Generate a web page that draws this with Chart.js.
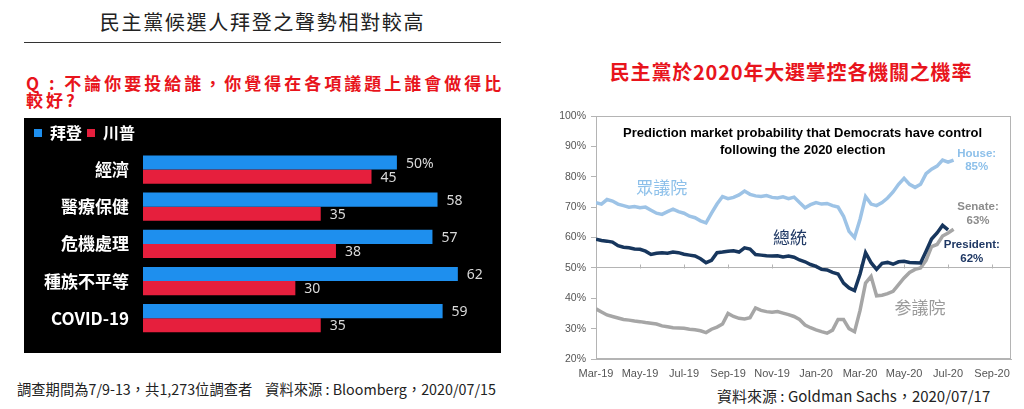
<!DOCTYPE html>
<html>
<head>
<meta charset="utf-8">
<script src="https://cdn.jsdelivr.net/npm/chart.js@4.4.0/dist/chart.umd.min.js"></script>
<style>
  body { margin: 0; width: 1024px; height: 409px; background: #fff; position: relative; overflow: hidden;
         font-family: "Noto Sans CJK TC", sans-serif; }
  .txt { position: absolute; white-space: nowrap; }
  #title { left: 24px; width: 477px; top: 8px; text-align: center; font-size: 20px; letter-spacing: 1.7px; color: #222; line-height: 28px; }
  #rule { position: absolute; left: 24px; width: 477px; top: 42px; border-top: 1px solid #333; }
  #question { left: 26px; top: 74px; font-size: 17px; font-weight: bold; letter-spacing: 3px; color: #e8141c; line-height: 17px; }
  #rightTitle { left: 540px; width: 502px; top: 58px; text-align: center; font-size: 20px; font-weight: bold; letter-spacing: 0.8px; color: #e8141c; line-height: 28px; }
  #noteLeft { left: 17px; top: 378px; font-size: 14.3px; color: #222; line-height: 22px; }
  #noteRight { left: 717px; top: 385px; font-size: 15px; color: #222; line-height: 22px; }
  #bars { position: absolute; left: 24px; top: 118px; background: #000; }
  #lines { position: absolute; left: 540px; top: 100px; }
</style>
</head>
<body>
<div class="txt" id="title">民主黨候選人拜登之聲勢相對較高</div>
<div id="rule"></div>
<div class="txt" id="question">Q : 不論你要投給誰，你覺得在各項議題上誰會做得比<br>較好?</div>
<div class="txt" id="rightTitle">民主黨於2020年大選掌控各機關之機率</div>
<canvas id="bars" width="477" height="235"></canvas>
<canvas id="lines" width="484" height="285"></canvas>
<div class="txt" id="noteLeft">調查期間為7/9-13，共1,273位調查者&nbsp;&nbsp;&nbsp;&nbsp;資料來源 : Bloomberg，2020/07/15</div>
<div class="txt" id="noteRight">資料來源 : Goldman Sachs，2020/07/17</div>
<script>
// ---- left: survey bars ----
const issues = ["經濟", "醫療保健", "危機處理", "種族不平等", "COVID-19"];
const bidenPct = [50, 58, 57, 62, 59];
const trumpPct = [45, 35, 38, 30, 35];

// ---- right: prediction market lines (months since Mar-19, about weekly) ----
const monthTickLabels = ["Mar-19", "May-19", "Jul-19", "Sep-19", "Nov-19", "Jan-20", "Mar-20", "May-20", "Jul-20", "Sep-20"];
const monthPos = [
  0, 0.25, 0.5, 0.75, 1, 1.25, 1.5, 1.75, 2, 2.25, 2.5, 2.75, 3, 3.25, 3.5, 3.75,
  4, 4.25, 4.5, 4.75, 5, 5.25, 5.5, 5.75, 6, 6.25, 6.5, 6.75, 7, 7.25, 7.5, 7.75,
  8, 8.25, 8.5, 8.75, 9, 9.25, 9.5, 9.75, 10, 10.25, 10.5, 10.75, 11, 11.25, 11.5, 11.75,
  12, 12.25, 12.5, 12.75, 13, 13.25, 13.5, 13.75, 14, 14.25, 14.5, 14.75, 15, 15.25, 15.5, 15.75,
  16, 16.25
];
const house = [
  71.5, 71, 72.5, 72, 71, 70.5, 70, 70.2, 69.8, 70, 69, 68, 67.6, 68.5, 69.3, 68.5,
  68, 67, 66.5, 65.5, 64.8, 68, 71, 73.5, 72.8, 73.2, 74, 75.3, 74.2, 73.7, 73.5, 73.8,
  73.2, 73, 73.4, 72.8, 73.3, 71.5, 69.8, 70.8, 71.5, 71, 71.2, 70.5, 70, 67, 62, 60,
  66, 73.5, 71, 70.5, 71.5, 73, 75, 77.5, 79.5, 77.5, 76.5, 77.5, 81, 82.5, 83.5, 85.5,
  84.8, 85.5
];
const president = [
  59.4, 59, 58.8, 58.5, 57.3, 56.8, 56.6, 56.2, 56.1, 55.5, 54.4, 54.8, 55, 54.8, 55.2, 55,
  54.5, 54.2, 53.9, 53, 51.7, 52.5, 55, 55.2, 55.5, 55.6, 55.2, 56.6, 56.2, 54.4, 54.2, 54,
  53.9, 54, 53.6, 53.9, 53.5, 52.6, 52, 51.1, 50.5, 49.5, 49.3, 48.5, 48, 45, 43.4, 42.5,
  48, 55, 51.7, 49.5, 51.5, 51.8, 51.2, 52, 52.2, 51.8, 51.7, 51.6, 55.5, 59.5, 61.5, 64,
  62.5, null
];
const senate = [
  36.5, 35.5, 34.5, 34, 33.5, 33, 32.8, 32.5, 32.3, 32, 31.8, 31.5, 30.9, 30.6, 30.3, 30.2,
  30.1, 29.8, 29.6, 29.3, 28.7, 29.8, 30.5, 31.5, 35, 34, 33.4, 33.2, 33.6, 36.8, 36, 35.6,
  35.4, 35.6, 35.1, 34.6, 34, 33, 31.2, 30.3, 29.6, 29, 28.5, 29.5, 33, 33, 30, 29,
  36, 45, 47.2, 40.8, 41, 41.5, 42.3, 44.5, 46.7, 48.5, 49.5, 50, 52.5, 57, 57.7, 60.5,
  61.5, 62.7
];

const CJK = '"Noto Sans CJK TC"';
const ARIAL = '"Liberation Sans", Arial';

// numbers at the end of each bar
const barValueLabels = {
  id: "barValueLabels",
  afterDatasetsDraw(chart) {
    const ctx = chart.ctx;
    ctx.save();
    ctx.font = '14px "Noto Sans"';
    ctx.fillStyle = "#d9d9d9";
    ctx.textBaseline = "middle";
    chart.data.datasets.forEach((ds, di) => {
      chart.getDatasetMeta(di).data.forEach((bar, i) => {
        let txt = String(ds.data[i]);
        if (di === 0 && i === 0) txt += "%";
        ctx.fillText(txt, bar.x + 9, bar.y + 1);
      });
    });
    ctx.restore();
  }
};

new Chart(document.getElementById("bars"), {
  type: "bar",
  data: {
    labels: issues,
    datasets: [
      { label: "拜登", data: bidenPct, backgroundColor: "#1e8fee" },
      { label: "川普", data: trumpPct, backgroundColor: "#e61f3d" }
    ]
  },
  options: {
    indexAxis: "y",
    responsive: false,
    animation: false,
    categoryPercentage: 0.76,
    barPercentage: 1,
    layout: { padding: { left: 5, top: 2, right: 0, bottom: 0 } },
    scales: {
      x: { display: false, min: 0, max: 70.5 },
      y: {
        grid: { display: false },
        border: { display: false },
        ticks: { color: "#fff", padding: 6, font: { family: CJK, size: 17, weight: "bold" } },
        afterFit(s) { s.width = 114; }
      }
    },
    plugins: {
      legend: {
        align: "start",
        labels: { color: "#fff", boxWidth: 8, boxHeight: 8, padding: 5, font: { family: CJK, size: 16, weight: "bold" } }
      },
      tooltip: { enabled: false }
    }
  },
  plugins: [barValueLabels]
});

// texts placed in data units (month, percent)
const chartNotes = [
  { text: "Prediction market probability that Democrats have control", m: 9.39, v: 94.1, color: "#000", font: "bold 13px " + ARIAL },
  { text: "following the 2020 election", m: 9.39, v: 88.6, color: "#000", font: "bold 13px " + ARIAL },
  { text: "眾議院", m: 2.99, v: 76.3, color: "#8dc0ea", font: "17px " + CJK },
  { text: "總統", m: 8.82, v: 60, color: "#1f3864", font: "17px " + CJK },
  { text: "参議院", m: 14.73, v: 36.9, color: "#9a9a9a", font: "17px " + CJK },
  { text: "House:", m: 17.3, v: 87.5, color: "#8dc0ea", font: "bold 11.5px " + ARIAL },
  { text: "85%", m: 17.3, v: 83.2, color: "#8dc0ea", font: "bold 11.5px " + ARIAL },
  { text: "Senate:", m: 17.36, v: 70, color: "#8c8c8c", font: "bold 11.5px " + ARIAL },
  { text: "63%", m: 17.36, v: 65.4, color: "#8c8c8c", font: "bold 11.5px " + ARIAL },
  { text: "President:", m: 17.08, v: 57.7, color: "#1f3864", font: "bold 11.5px " + ARIAL },
  { text: "62%", m: 17.08, v: 53.1, color: "#1f3864", font: "bold 11.5px " + ARIAL }
];

const lineDecor = {
  id: "lineDecor",
  beforeDatasetsDraw(chart) {
    const { ctx, chartArea: a, scales } = chart;
    ctx.save();
    ctx.strokeStyle = "#b4b4b4";
    ctx.lineWidth = 1;
    ctx.strokeRect(a.left + 0.5, a.top + 0.5, a.right - a.left - 1, a.bottom - a.top - 1);
    const y50 = Math.round(scales.y.getPixelForValue(50)) + 0.5;
    ctx.beginPath();
    scales.x.ticks.forEach(t => {
      const x = Math.round(scales.x.getPixelForValue(t.value)) + 0.5;
      ctx.moveTo(x, y50);
      ctx.lineTo(x, y50 - 4);
    });
    ctx.stroke();
    ctx.restore();
  },
  afterDatasetsDraw(chart) {
    const { ctx, scales } = chart;
    ctx.save();
    ctx.textAlign = "center";
    ctx.textBaseline = "middle";
    chartNotes.forEach(n => {
      ctx.font = n.font;
      ctx.fillStyle = n.color;
      ctx.fillText(n.text, scales.x.getPixelForValue(n.m), scales.y.getPixelForValue(n.v));
    });
    ctx.restore();
  }
};

const toPoints = vals => monthPos.map((m, i) => ({ x: m, y: vals[i] }));

new Chart(document.getElementById("lines"), {
  type: "line",
  data: {
    datasets: [
      { label: "President", data: toPoints(president), borderColor: "#17365d", borderWidth: 3.5 },
      { label: "Senate", data: toPoints(senate), borderColor: "#a6a6a6", borderWidth: 3.5 },
      { label: "House", data: toPoints(house), borderColor: "#9dc3e6", borderWidth: 3.5 }
    ]
  },
  options: {
    responsive: false,
    animation: false,
    elements: { point: { radius: 0 }, line: { tension: 0 } },
    layout: { padding: { top: 16, right: 13, left: 0, bottom: 0 } },
    scales: {
      x: {
        type: "linear",
        min: 0,
        max: 18.86,
        grid: { drawOnChartArea: false, drawTicks: false },
        border: { color: "#b4b4b4" },
        afterBuildTicks(s) { s.ticks = monthTickLabels.map((_, i) => ({ value: i * 2 })); },
        ticks: {
          padding: 8,
          color: "#555",
          font: { family: ARIAL, size: 11 },
          callback: v => monthTickLabels[v / 2]
        },
        afterFit(s) { s.height = 26; }
      },
      y: {
        min: 20,
        max: 100,
        grid: {
          color: c => (c.tick && c.tick.value === 50 ? "#b4b4b4" : "rgba(0,0,0,0)"),
          tickColor: "#b4b4b4",
          tickLength: 5
        },
        border: { color: "#b4b4b4" },
        ticks: {
          stepSize: 10,
          padding: 5,
          color: "#555",
          font: { family: ARIAL, size: 10.5 },
          callback: v => v + "%"
        },
        afterFit(s) { s.width = 56; }
      }
    },
    plugins: { legend: { display: false }, tooltip: { enabled: false } }
  },
  plugins: [lineDecor]
});
</script>
</body>
</html>
